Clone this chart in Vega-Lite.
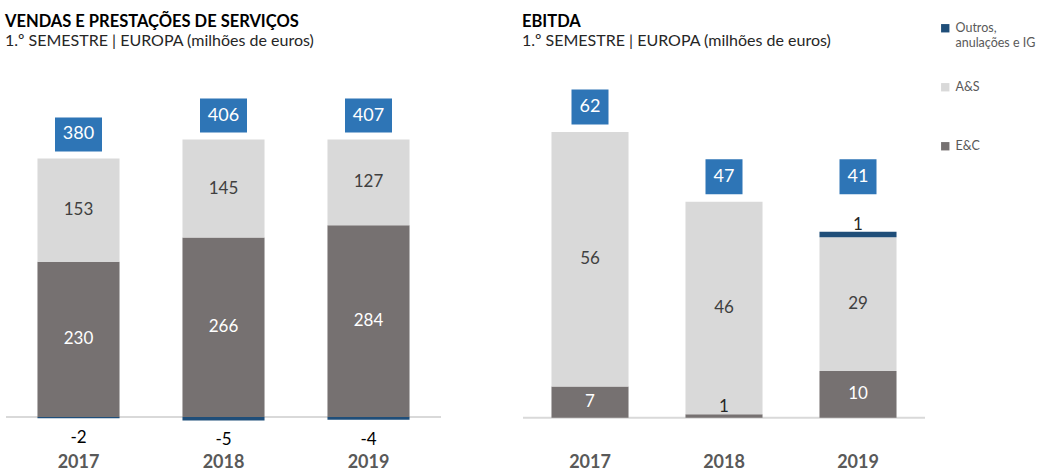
{
  "$schema": "https://vega.github.io/schema/vega-lite/v6.json",
  "background": "white",
  "padding": {"left": 5, "top": 13, "right": 0, "bottom": 0},
  "datasets": {
    "vendas": [
      {"ano": "2017", "cat": "E&C", "valor": 230},
      {"ano": "2017", "cat": "A&S", "valor": 153},
      {"ano": "2017", "cat": "Outros, anulações e IG", "valor": -2},
      {"ano": "2018", "cat": "E&C", "valor": 266},
      {"ano": "2018", "cat": "A&S", "valor": 145},
      {"ano": "2018", "cat": "Outros, anulações e IG", "valor": -5},
      {"ano": "2019", "cat": "E&C", "valor": 284},
      {"ano": "2019", "cat": "A&S", "valor": 127},
      {"ano": "2019", "cat": "Outros, anulações e IG", "valor": -4}
    ],
    "vendasTot": [
      {"ano": "2017", "total": 380},
      {"ano": "2018", "total": 406},
      {"ano": "2019", "total": 407}
    ],
    "ebitda": [
      {"ano": "2017", "cat": "E&C", "valor": 6.8},
      {"ano": "2017", "cat": "A&S", "valor": 55.6},
      {"ano": "2018", "cat": "E&C", "valor": 0.74},
      {"ano": "2018", "cat": "A&S", "valor": 46.4},
      {"ano": "2019", "cat": "E&C", "valor": 10.2},
      {"ano": "2019", "cat": "A&S", "valor": 29.2},
      {"ano": "2019", "cat": "Outros, anulações e IG", "valor": 1.22}
    ],
    "ebitdaTot": [
      {"ano": "2017", "total": 62},
      {"ano": "2018", "total": 47},
      {"ano": "2019", "total": 41}
    ]
  },
  "hconcat": [
    {
      "width": 435,
      "height": 365,
      "title": {"text": "VENDAS E PRESTAÇÕES DE SERVIÇOS", "subtitle": "1.º SEMESTRE  |  EUROPA (milhões de euros)"},
      "data": {"name": "vendas"},
      "transform": [
        {"calculate": "indexof(['E&C','A&S','Outros, anulações e IG'], datum.cat)", "as": "ordem"},
        {"stack": "valor", "groupby": ["ano"], "sort": [{"field": "ordem", "order": "ascending"}], "as": ["v0", "v1"]},
        {"calculate": "(datum.v0 + datum.v1) / 2", "as": "meio"},
        {"joinaggregate": [{"op": "max", "field": "v1", "as": "topo"}], "groupby": ["ano"]}
      ],
      "layer": [
        {
          "data": {"values": [{}]},
          "mark": {"type": "rule", "color": "#D9D9D9", "strokeWidth": 2},
          "encoding": {"y": {"datum": 0, "type": "quantitative", "scale": {"domain": [-13.3, 527.4], "nice": false, "zero": false}, "axis": null}}
        },
        {
          "mark": {"type": "bar"},
          "encoding": {
            "x": {"field": "ano", "type": "nominal", "scale": {"paddingInner": 0.434, "paddingOuter": 0.217}, "axis": {"title": null}},
            "y": {"field": "v0", "type": "quantitative", "scale": {"domain": [-13.3, 527.4], "nice": false, "zero": false}, "axis": null},
            "y2": {"field": "v1"},
            "color": {
              "field": "cat", "type": "nominal",
              "scale": {"domain": ["Outros, anulações e IG", "A&S", "E&C"], "range": ["#1F4E79", "#D9D9D9", "#767171"]},
              "legend": {
                "title": null, "orient": "none", "legendX": 933, "legendY": -39, "gridAlign": "all",
                "labelExpr": "datum.label == 'Outros, anulações e IG' ? ['Outros,', 'anulações e IG'] : datum.label"
              }
            }
          }
        },
        {
          "transform": [{"filter": "datum.valor >= 5"}],
          "mark": {"type": "text", "fontSize": 17, "baseline": "middle"},
          "encoding": {
            "x": {"field": "ano", "type": "nominal"},
            "y": {"field": "meio", "type": "quantitative"},
            "text": {"field": "valor", "format": ".0f"},
            "color": {"condition": {"test": "datum.cat == 'E&C'", "value": "#FFFFFF"}, "value": "#404040"}
          }
        },
        {
          "transform": [{"filter": "datum.valor < 0"}],
          "mark": {"type": "text", "fontSize": 17, "baseline": "middle", "dy": 20, "color": "#000000"},
          "encoding": {
            "x": {"field": "ano", "type": "nominal"},
            "y": {"field": "v1", "type": "quantitative"},
            "text": {"field": "valor"}
          }
        },
        {
          "transform": [{"filter": "datum.v1 == datum.topo"}, {"lookup": "ano", "from": {"data": {"name": "vendasTot"}, "key": "ano", "fields": ["total"]}}],
          "mark": {"type": "point", "shape": "M-1,-0.723H1V0.723H-1Z", "size": 2209, "filled": true, "opacity": 1, "color": "#2E75B6", "strokeWidth": 0, "yOffset": -24},
          "encoding": {
            "x": {"field": "ano", "type": "nominal"},
            "y": {"field": "topo", "type": "quantitative"}
          }
        },
        {
          "transform": [{"filter": "datum.v1 == datum.topo"}, {"lookup": "ano", "from": {"data": {"name": "vendasTot"}, "key": "ano", "fields": ["total"]}}],
          "mark": {"type": "text", "fontSize": 18, "baseline": "middle", "dy": -24, "color": "#FFFFFF"},
          "encoding": {
            "x": {"field": "ano", "type": "nominal"},
            "y": {"field": "topo", "type": "quantitative"},
            "text": {"field": "total"}
          }
        }
      ]
    },
    {
      "width": 402,
      "height": 365,
      "title": {"text": "EBITDA", "subtitle": "1.º SEMESTRE | EUROPA (milhões de euros)"},
      "data": {"name": "ebitda"},
      "transform": [
        {"calculate": "indexof(['E&C','A&S','Outros, anulações e IG'], datum.cat)", "as": "ordem"},
        {"stack": "valor", "groupby": ["ano"], "sort": [{"field": "ordem", "order": "ascending"}], "as": ["v0", "v1"]},
        {"calculate": "(datum.v0 + datum.v1) / 2", "as": "meio"},
        {"joinaggregate": [{"op": "max", "field": "v1", "as": "topo"}], "groupby": ["ano"]}
      ],
      "layer": [
        {
          "data": {"values": [{}]},
          "mark": {"type": "rule", "color": "#D9D9D9", "strokeWidth": 2},
          "encoding": {"y": {"datum": 0, "type": "quantitative", "scale": {"domain": [-1.81, 77.88], "nice": false, "zero": false}, "axis": null}}
        },
        {
          "mark": {"type": "bar"},
          "encoding": {
            "x": {"field": "ano", "type": "nominal", "scale": {"paddingInner": 0.425, "paddingOuter": 0.2125}, "axis": {"title": null}},
            "y": {"field": "v0", "type": "quantitative", "scale": {"domain": [-1.81, 77.88], "nice": false, "zero": false}, "axis": null},
            "y2": {"field": "v1"},
            "color": {
              "field": "cat", "type": "nominal",
              "scale": {"domain": ["Outros, anulações e IG", "A&S", "E&C"], "range": ["#1F4E79", "#D9D9D9", "#767171"]},
              "legend": {
                "title": null, "orient": "none", "legendX": 933, "legendY": -39, "gridAlign": "all",
                "labelExpr": "datum.label == 'Outros, anulações e IG' ? ['Outros,', 'anulações e IG'] : datum.label"
              }
            }
          }
        },
        {
          "transform": [{"filter": "datum.valor >= 5"}],
          "mark": {"type": "text", "fontSize": 17, "baseline": "middle"},
          "encoding": {
            "x": {"field": "ano", "type": "nominal"},
            "y": {"field": "meio", "type": "quantitative"},
            "text": {"field": "valor", "format": ".0f"},
            "color": {"condition": {"test": "datum.cat == 'E&C'", "value": "#FFFFFF"}, "value": "#404040"}
          }
        },
        {
          "transform": [{"filter": "datum.valor > 0 && datum.valor < 5"}],
          "mark": {"type": "text", "fontSize": 17, "baseline": "alphabetic", "dy": -2, "color": "#262626"},
          "encoding": {
            "x": {"field": "ano", "type": "nominal"},
            "y": {"field": "v1", "type": "quantitative"},
            "text": {"field": "valor", "format": ".0f"}
          }
        },
        {
          "transform": [{"filter": "datum.v1 == datum.topo && datum.valor >= 5"}, {"lookup": "ano", "from": {"data": {"name": "ebitdaTot"}, "key": "ano", "fields": ["total"]}}],
          "mark": {"type": "point", "shape": "M-1,-0.946H1V0.946H-1Z", "size": 1369, "filled": true, "opacity": 1, "color": "#2E75B6", "strokeWidth": 0, "yOffset": -25},
          "encoding": {
            "x": {"field": "ano", "type": "nominal"},
            "y": {"field": "topo", "type": "quantitative"}
          }
        },
        {
          "transform": [{"filter": "datum.v1 == datum.topo && datum.valor >= 5"}, {"lookup": "ano", "from": {"data": {"name": "ebitdaTot"}, "key": "ano", "fields": ["total"]}}],
          "mark": {"type": "text", "fontSize": 18, "baseline": "middle", "dy": -25, "color": "#FFFFFF"},
          "encoding": {
            "x": {"field": "ano", "type": "nominal"},
            "y": {"field": "topo", "type": "quantitative"},
            "text": {"field": "total"}
          }
        },
        {
          "transform": [{"filter": "datum.v1 == datum.topo && datum.valor < 5"}, {"lookup": "ano", "from": {"data": {"name": "ebitdaTot"}, "key": "ano", "fields": ["total"]}}],
          "mark": {"type": "point", "shape": "M-1,-0.946H1V0.946H-1Z", "size": 1369, "filled": true, "opacity": 1, "color": "#2E75B6", "strokeWidth": 0, "yOffset": -55},
          "encoding": {
            "x": {"field": "ano", "type": "nominal"},
            "y": {"field": "topo", "type": "quantitative"}
          }
        },
        {
          "transform": [{"filter": "datum.v1 == datum.topo && datum.valor < 5"}, {"lookup": "ano", "from": {"data": {"name": "ebitdaTot"}, "key": "ano", "fields": ["total"]}}],
          "mark": {"type": "text", "fontSize": 18, "baseline": "middle", "dy": -55, "color": "#FFFFFF"},
          "encoding": {
            "x": {"field": "ano", "type": "nominal"},
            "y": {"field": "topo", "type": "quantitative"},
            "text": {"field": "total"}
          }
        }
      ]
    }
  ],
  "spacing": 80,
  "resolve": {"scale": {"x": "independent", "y": "independent", "color": "shared"}},
  "config": {
    "font": "Lato",
    "view": {"stroke": null},
    "axisX": {"domain": false, "ticks": false, "labelAngle": 0, "labelFontSize": 18, "labelFontWeight": "bold", "labelColor": "#595959", "labelPadding": 27, "labelFont": "Lato"},
    "title": {"anchor": "start", "fontSize": 16.5, "fontWeight": "bold", "color": "#000000", "subtitleFontSize": 16, "subtitleColor": "#262626", "subtitlePadding": 3, "offset": 12, "font": "Lato", "subtitleFont": "Lato"},
    "legend": {
      "symbolType": "square", "symbolSize": 70, "symbolStrokeWidth": 0,
      "labelFontSize": 12.5, "labelColor": "#595959", "labelFont": "Lato", "rowPadding": 31, "labelLimit": 200
    }
  }
}
